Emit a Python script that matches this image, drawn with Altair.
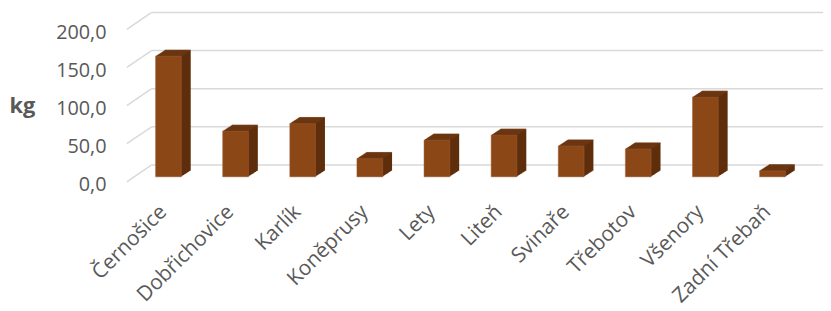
import altair as alt
import pandas as pd

places = ["Černošice", "Dobřichovice", "Karlík", "Koněprusy", "Lety", "Liteň",
          "Svinaře", "Třebotov", "Všenory", "Zadní Třebaň"]
values = [158.0, 59.7, 69.7, 23.8, 48.0, 54.5, 40.3, 36.4, 104.3, 7.8]
grid_values = [0, 50, 100, 150, 200]

df = pd.DataFrame({"place": places, "kg": values})
gdf = pd.DataFrame({"g": grid_values})

FONT = "Open Sans"
GRAY = "#595959"
FRONT = "#8C4716"
SIDE = "#5E2E0C"
TOP = "#6E3713"
W, H = 694, 154

xenc = alt.X("place:N", sort=places,
             scale=alt.Scale(paddingInner=0, paddingOuter=0.12),
             axis=alt.Axis(title=None, labelAngle=-45, domain=False, ticks=False,
                           labelFont=FONT, labelFontSize=21, labelColor=GRAY,
                           labelPadding=27, labelOffset=-5,
                           labelAlign="right", labelBaseline="middle"))
yscale = alt.Scale(domain=[0, 200], nice=False)
yaxis = alt.Axis(values=grid_values, grid=False, domain=False, ticks=False,
                 labelExpr="replace(format(datum.value, '.1f'), '.', ',')",
                 labelFont=FONT, labelFontSize=20, labelColor=GRAY, labelPadding=21,
                 labelOffset=3,
                 title="kg", titleAngle=0, titleFont=FONT, titleFontSize=22,
                 titleFontWeight="bold", titleColor=GRAY, titleX=-119, titleY=77,
                 titleAlign="left", titleBaseline="middle")
yenc = alt.Y("kg:Q", scale=yscale, axis=yaxis)
genc = alt.Y("g:Q", scale=yscale, axis=yaxis)

# grid: back horizontal lines and side-wall diagonals
back = alt.Chart(gdf).mark_rule(color="#D9D9D9", strokeWidth=1.5, yOffset=-17).encode(
    y=genc, x=alt.value(25), x2=alt.value(W + 9))
side_wall = alt.Chart(gdf).mark_rule(color="#D9D9D9", strokeWidth=1.5, y2Offset=-17).encode(
    y=genc, y2="g:Q", x=alt.value(0), x2=alt.value(25))

layers = [back, side_wall]
steps = 10
for i in range(1, steps + 1):
    dx = i * 0.95
    dy = -5 - i * 0.62
    layers.append(alt.Chart(df).mark_bar(size=26, color=SIDE, xOffset=dx, yOffset=dy)
                  .encode(x=xenc, y=yenc))
for i in range(0, steps + 1):
    dx = i * 0.95
    dy = -5 - i * 0.62
    layers.append(alt.Chart(df).mark_tick(size=26, thickness=1.2, color=TOP, xOffset=dx, yOffset=dy)
                  .encode(x=xenc, y=yenc))
layers.append(alt.Chart(df).mark_bar(size=26, color=FRONT, yOffset=-5,
                                     stroke="#A0623A", strokeWidth=0.5)
              .encode(x=xenc, y=yenc))

chart = alt.layer(*layers).properties(
    width=W, height=H,
    autosize=alt.AutoSizeParams(type="none"),
    padding={"left": 120, "top": 20, "right": 9, "bottom": 129},
).configure_view(stroke=None)

chart.save("out.html", embed_options={"renderer": "svg", "actions": False})
